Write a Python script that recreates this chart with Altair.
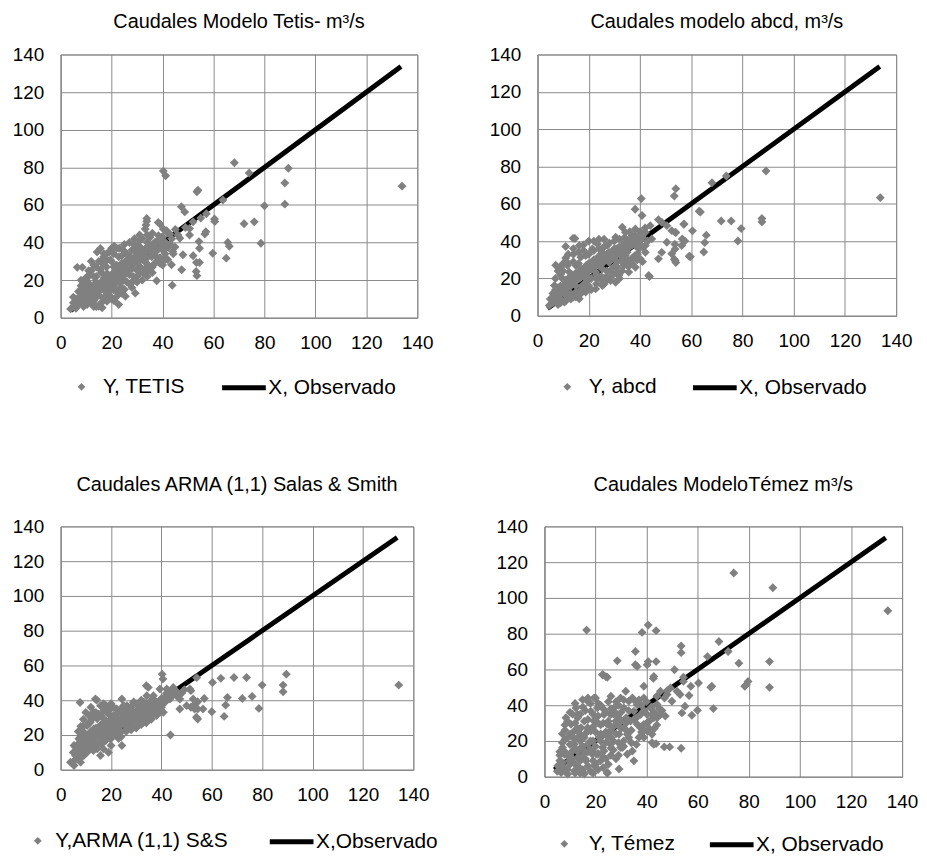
import altair as alt
import pandas as pd

FONT = "Liberation Sans"
GRID = "#8a8a8a"
PT = "#808080"
FS = 19      # tick labels
FS_T = 20    # titles
FS_L = 21    # legend labels

# Observed flows (X = X reference line), m3/s
obs_line = [3.9, 133.6]

axis_values = [0, 20, 40, 60, 80, 100, 120, 140]

# ---------------- Panel 1: TETIS (observed x, simulated y) ----------------
tetis_pts = [
    (134, 70), (89.4, 79.5), (88, 71.7), (88, 60.4), (80, 59.5), (78.6, 39.6), (76, 51), (72, 50),
    (74, 77), (68.2, 82.4), (65.6, 40), (66.2, 38), (65, 31.7), (59.7, 34.3), (60.4, 52.5), (57, 45.8),
    (56.6, 44.5), (53.9, 67.8), (53.5, 67), (53.2, 24.6), (53.5, 22.4), (54.5, 29.4), (53.3, 29.4),
    (54.3, 40.5), (54.5, 37), (47.4, 59), (48.7, 56.3), (40.3, 78), (41.2, 75.5), (43.8, 17.3),
    (47.5, 25.5), (37.7, 19.7), (33.8, 52.8), (33.5, 49.3), (38.3, 50.7), (50.6, 44), (50.6, 47.5),
    (48, 33.5), (44, 35.2), (43.5, 28.2), (42.2, 37.3), (40.9, 30.8), (46.8, 42.3), (52, 33),
    (63.7, 62.6), (57.2, 55.3), (60.5, 51.2), (45, 47), (46, 44), (49, 48), (55, 53), (52, 51),
    (3.9, 4.7), (5.2, 6.1), (6.5, 8.8), (7.8, 11.4), (6.5, 26.8), (8.5, 26.8), (9.1, 14.9), (11, 18.4),
    (11.7, 13.1), (13, 10.5), (15, 6.1), (15.6, 36.8), (14.3, 35), (16.9, 32.4), (18.2, 30.7),
    (19.5, 30.7), (20.8, 34), (22.8, 32.4), (24.7, 35.8), (26, 30.7), (28.6, 39.4), (29.3, 35.8),
    (31.2, 37.6), (33.2, 36.7), (35.1, 42.8), (37, 40.2), (38.4, 43.7), (39, 49.8), (40.3, 47.2),
    (41.6, 46.3), (42.9, 44.5), (33.8, 51.3), (33.2, 47.2), (35.1, 35), (37.7, 32.4), (39, 28.9),
    (32.5, 23.6), (29.3, 13.1), (27.3, 17.5), (23.4, 18.4), (20.8, 14.9), (19.5, 11.4), (18.2, 8.8),
    (16.3, 5.3), (22.8, 7), (22.1, 11.4), (25.4, 11.4), (16.9, 10.5), (13, 14.9), (13, 21.9),
    (15.6, 25.4), (18.2, 23.6), (20.8, 27.1), (23.4, 25.4), (26, 23.6), (27.3, 28.9), (29.9, 30.7),
    (32.5, 30.7), (31.2, 27.1), (28.6, 21.9), (15.6, 18.4), (18.2, 18.4), (20.8, 20.1), (10.4, 21.9),
    (9.8, 11.4), (12.4, 7.9), (10.4, 7), (14.3, 11.4), (16.9, 14.9), (19.5, 16.6), (22.1, 21.9),
    (24.7, 20.1), (26, 27.1), (29.9, 25.4), (33.8, 28.9), (35.8, 32.4), (36.4, 37.6), (39.7, 42.8),
    (41.6, 39.3), (43.6, 42), (44.9, 37.6), (44.2, 34), (40.3, 35.8), (8, 17), (12, 25), (17, 28),
    (21, 24), (24, 29), (27, 33), (30, 33), (25, 15), (14, 19), (11, 10), (6, 10), (9, 20), (17, 21),
    (28, 26), (34, 40), (36, 45), (31, 41),
    (5, 8), (6, 5), (7, 7), (8, 9), (9, 6), (10, 12), (11, 15), (12, 12), (13, 17), (14, 14), (15, 16),
    (16, 19), (17, 17), (18, 21), (19, 19), (20, 23), (21, 21), (22, 25), (23, 23), (24, 27), (25, 25),
    (26, 29), (27, 27), (28, 31), (29, 29), (30, 34), (31, 31), (32, 35), (33, 33), (34, 37), (35, 38),
    (36, 35), (37, 39), (38, 36), (39, 40), (40, 38), (12, 16), (14, 22), (16, 24), (18, 27), (20, 30),
    (22, 28), (24, 33), (26, 34), (28, 36), (30, 38), (32, 42), (34, 44), (10, 17), (13, 9), (15, 12),
    (17, 10), (19, 14), (21, 17), (23, 15), (25, 20), (27, 23), (29, 20), (31, 24), (33, 26), (35, 27),
    (37, 29), (39, 32), (41, 34), (9, 13), (11, 22), (14, 27), (16, 30), (18, 34), (20, 37), (22, 37),
    (7, 14), (5, 11), (8, 20), (12, 30), (13, 6), (21, 9), (24, 13), (28, 16), (30, 19), (34, 22),
    (36, 24),
    (6, 7), (7, 10), (8, 8), (9, 11), (10, 9), (11, 13), (12, 14), (13, 13), (14, 16), (15, 14),
    (16, 17), (17, 19), (18, 16), (19, 21), (20, 18), (21, 23), (22, 20), (23, 26), (24, 22), (25, 28),
    (26, 25), (27, 30), (28, 28), (29, 32), (30, 29), (31, 34), (32, 31), (33, 35), (34, 32), (35, 37),
    (36, 39), (37, 35), (38, 41), (39, 37), (40, 43), (41, 40), (42, 45), (43, 39), (10, 20), (11, 25),
    (13, 28), (15, 30), (17, 34), (19, 35), (21, 38), (23, 37), (25, 39), (27, 40), (29, 42), (31, 44),
    (12, 8), (14, 6), (16, 8), (18, 12), (20, 10), (22, 14), (24, 16), (26, 19), (28, 19), (30, 22),
    (32, 20), (34, 25), (36, 27), (38, 30), (40, 28), (42, 31),
]

# ---------------- Panel 2: abcd ----------------
abcd_pts = [
    (133.8, 63.3), (89.2, 77.6), (87.6, 52.1), (87.6, 50.3), (79.5, 46.7), (78.2, 40.1), (75.6, 50.8),
    (71.7, 50.8), (73.7, 74.9), (68.1, 71.3), (63.6, 55.6), (65.9, 43.2), (65.3, 39.2), (64.9, 34.2),
    (60.5, 45.5), (59.7, 31.6), (57.1, 49), (57.5, 40.1), (54, 68.1), (53.4, 64.2), (54, 44.6),
    (53.6, 38.3), (54, 28.5), (53.4, 30.3), (40.5, 62.8), (38.1, 57.1), (43.7, 21), (11, 37.1),
    (14.6, 41.4), (7.1, 27.1), (63.1, 56), (57.2, 49.2), (56.5, 41.2), (59.2, 31.9),
    (47.2, 51.5), (48.5, 50.1), (50.5, 48.3), (52.4, 45.6), (53.7, 44.7), (56.3, 37.6), (53.7, 35.8),
    (53.7, 29.6), (52.4, 33.2), (48.5, 34), (47.2, 30.5), (50.5, 39.4), (43.4, 21.6), (44, 48.3),
    (42.1, 44.7), (40.8, 53.7), (44.6, 41.2), (42.1, 37.6), (38.1, 32.3), (39.5, 35.8),
    (4.6, 5.5), (5.9, 8.2), (7.2, 10.9), (6.6, 16.2), (13.9, 41.5), (9.8, 19.8), (11.7, 16.2),
    (12.4, 23.4), (15, 26.9), (16.3, 37.6), (18.8, 32.3), (21.4, 35.8), (23.4, 38.5), (25.3, 34),
    (27.2, 37.6), (30.5, 42.1), (33.1, 47.4), (34.3, 44.7), (35.6, 39.4), (36.9, 43), (38.2, 46.5),
    (29.2, 32.3), (31.7, 34), (33.1, 28.7), (30.5, 26.9), (27.9, 28.7), (25.3, 25.1), (22.7, 23.4),
    (20.1, 19.8), (17.5, 16.2), (15, 12.7), (12.4, 10), (10.5, 7.3), (16.3, 9.1), (18.8, 12.7),
    (22.7, 14.4), (25.3, 16.2), (28.5, 18.9), (31.7, 21.6), (35.6, 23.4), (38.2, 26), (36.9, 30.5),
    (34.3, 32.3), (18.8, 25.1), (21.4, 28.7), (24, 30.5), (26.6, 32.3), (13.7, 18), (16.3, 21.6),
    (18.8, 19.8), (11.1, 12.7), (8.5, 14.4), (7.2, 7.3), (29.2, 21.6), (30.5, 18), (33.7, 26.9),
    (40.1, 30.5), (42.1, 34), (16.9, 31.4), (11.7, 27), (9, 22), (14, 29), (20, 26), (23, 20),
    (27, 24), (31, 29), (35, 36), (39, 41), (26, 41), (8, 12), (12, 20), (19, 22),
    (5, 9), (6, 12), (7, 14), (8, 11), (9, 16), (10, 14), (11, 19), (12, 17), (13, 21), (14, 19),
    (15, 23), (16, 20), (17, 25), (18, 23), (19, 27), (20, 24), (21, 28), (22, 26), (23, 30), (24, 27),
    (25, 31), (26, 29), (27, 33), (28, 30), (29, 34), (30, 31), (31, 36), (32, 33), (33, 37), (34, 35),
    (35, 39), (36, 37), (37, 40), (38, 38), (39, 42), (40, 40), (10, 24), (12, 28), (14, 33), (16, 28),
    (18, 35), (20, 33), (22, 35), (24, 36), (26, 37), (28, 39), (30, 40), (32, 41), (34, 42), (36, 45),
    (13, 12), (15, 16), (17, 14), (19, 18), (21, 20), (23, 17), (25, 21), (27, 19), (29, 25), (31, 23),
    (33, 24), (35, 30), (37, 28), (39, 30), (41, 37), (43, 40), (8, 6), (6, 7), (9, 9), (11, 8),
    (14, 10), (7, 20), (9, 26), (11, 31), (20, 16), (26, 17), (32, 20), (36, 27),
    (6, 10), (7, 12), (8, 15), (9, 13), (10, 16), (11, 14), (12, 19), (13, 16), (14, 21), (15, 19),
    (16, 23), (17, 21), (18, 25), (19, 23), (20, 28), (21, 25), (22, 30), (23, 27), (24, 32), (25, 28),
    (26, 33), (27, 30), (28, 34), (29, 31), (30, 36), (31, 33), (32, 37), (33, 35), (34, 39), (35, 34),
    (36, 41), (37, 38), (38, 43), (39, 39), (40, 45), (41, 42), (42, 47), (8, 24), (10, 28), (12, 33),
    (14, 36), (16, 34), (18, 38), (20, 40), (22, 40), (24, 41), (9, 7), (11, 11), (13, 9), (15, 10),
    (17, 12), (19, 15), (21, 14), (23, 22), (25, 19), (27, 21), (29, 23), (31, 26), (33, 30), (35, 27),
    (37, 31), (39, 33), (41, 29),
]

# ---------------- Panel 3: ARMA (1,1) Salas & Smith ----------------
arma_pts = [
    (134.2, 48.7), (89.6, 55), (88.3, 48.7), (88.3, 44.9), (80, 48.7), (78.7, 35.3), (76, 42.2),
    (73.8, 53.1), (72.1, 41), (68.8, 53.1), (63.6, 52.6), (66.2, 41.6), (65.5, 37.2), (64.9, 30.7),
    (60.3, 50.2), (60, 33.4), (57, 41), (54, 53), (54.4, 39.1), (54.4, 34.9), (54.4, 29.2), (53, 37.5),
    (51.7, 36), (51.7, 45.5), (49.1, 46), (43.6, 20), (40.3, 55), (40.6, 52.2), (34, 48.3), (7.7, 38.7),
    (14.3, 40.1),
    (3.9, 4.4), (5.3, 2.5), (5.9, 8.2), (7.2, 11.1), (5.3, 14), (7.2, 17.8), (9.2, 21.6), (10.5, 25.4),
    (11.2, 31.2), (13.1, 33.1), (13.8, 40.7), (15.8, 36.9), (17.1, 29.3), (19.7, 35), (21, 31.2),
    (24.3, 40.7), (26.3, 36.9), (28.9, 38.8), (31.5, 36.9), (34.2, 42.6), (34.8, 47.4), (36.8, 42.6),
    (39.4, 46.5), (42.1, 46.5), (43.4, 44.6), (44.7, 47.4), (46, 42.6), (47.3, 40.7), (50, 36.9),
    (47.3, 35), (38.1, 37.9), (39.4, 33.1), (36.8, 33.1), (34.2, 31.2), (31.5, 30.2), (28.9, 29.3),
    (26.3, 27.3), (23.7, 25.4), (21, 23.5), (18.4, 21.6), (15.8, 19.7), (13.1, 17.8), (11.8, 14),
    (10.5, 10.1), (15.8, 8.2), (14.5, 12), (17.1, 15.9), (19.7, 17.8), (22.3, 19.7), (24.3, 14),
    (23.7, 21.6), (26.3, 23.5), (30.2, 25.4), (32.9, 27.3), (35.5, 29.3), (38.1, 31.2), (40.8, 33.1),
    (41.4, 38.8), (43.4, 40.7), (18.4, 27.3), (15.8, 25.4), (13.1, 23.5), (14.5, 29.3), (11.8, 27.3),
    (19.7, 25.4), (22.3, 27.3), (25, 31.2), (27.6, 33.1), (30.2, 34), (32.9, 35), (22.3, 35),
    (18.4, 33.1), (7.9, 4.4), (9.2, 8.2), (51.3, 46.5), (52.6, 40.7), (53.2, 35), (53.9, 30.2),
    (56.5, 35), (9, 18), (12, 21), (16, 23), (20, 29), (24, 28), (28, 34), (33, 39), (37, 40),
    (45, 44), (42, 43), (48, 44), (17, 38),
    (5, 10), (6, 13), (7, 15), (8, 19), (9, 17), (10, 20), (11, 18), (12, 22), (13, 20), (14, 24),
    (15, 22), (16, 26), (17, 24), (18, 28), (19, 26), (20, 27), (21, 29), (22, 25), (23, 29), (24, 27),
    (25, 29), (26, 31), (27, 29), (28, 31), (29, 33), (30, 31), (31, 33), (32, 32), (33, 34), (34, 33),
    (35, 36), (36, 35), (37, 37), (38, 36), (39, 39), (40, 38), (41, 41), (42, 40), (44, 42), (46, 45),
    (8, 25), (9, 29), (10, 33), (12, 36), (14, 33), (16, 31), (18, 37), (20, 38), (22, 32), (24, 35),
    (26, 34), (28, 36), (30, 38), (32, 40), (34, 38), (36, 40), (10, 15), (12, 13), (14, 16), (16, 18),
    (18, 17), (20, 21), (22, 23), (24, 22), (26, 25), (28, 26), (30, 28), (32, 29), (34, 27), (36, 31),
    (38, 34), (40, 36), (6, 6), (7, 9), (8, 7), (11, 11), (13, 11), (17, 12), (20, 14), (19, 10),
    (23, 18),
    (6, 11), (7, 13), (8, 15), (9, 14), (10, 18), (11, 16), (12, 19), (13, 18), (14, 21), (15, 20),
    (16, 22), (17, 21), (18, 24), (19, 23), (20, 25), (21, 24), (22, 27), (23, 26), (24, 29), (25, 27),
    (26, 30), (27, 28), (28, 32), (29, 30), (30, 33), (31, 32), (32, 35), (33, 33), (34, 36), (35, 34),
    (36, 38), (37, 36), (38, 39), (39, 37), (40, 41), (41, 39), (42, 44), (43, 42), (45, 46), (47, 43),
    (7, 22), (9, 25), (11, 27), (13, 30), (15, 32), (17, 34), (19, 32), (21, 36), (23, 33), (25, 37),
    (27, 36), (29, 39), (8, 11), (10, 12), (12, 15), (14, 14), (16, 15), (18, 19), (20, 18), (22, 20),
    (24, 19), (26, 22), (28, 23), (30, 24), (32, 26), (34, 30), (36, 29), (38, 32),
]

# ---------------- Panel 4: Temez ----------------
temez_pts = [
    (134.4, 92.8), (89.4, 105.7), (88.1, 64.4), (88.1, 50), (79.7, 53.3), (79, 51.5), (78.4, 50.6),
    (76.1, 63.5), (74.1, 113.9), (71.9, 70), (68.3, 75.6), (63.8, 67.2), (66.1, 38.1), (65.5, 50.6),
    (65.1, 50), (60.3, 52.4), (59.9, 37.2), (57.3, 50.6), (57.7, 34.4), (56.6, 45.4), (53.5, 73.1),
    (53.5, 69.4), (53.5, 15.9), (54.4, 55.6), (55, 39.4), (53.8, 35.7), (50.9, 59.8), (49, 16.7),
    (46.9, 16.7), (43.7, 18.5), (42.1, 19.1), (43.7, 64.4), (43.7, 81.7), (40.6, 84.8), (38.2, 80.7),
    (40.6, 64.4), (40.2, 62.6), (42.8, 56.1), (42.6, 55), (35.6, 70), (35.6, 62.6), (36.3, 61.7),
    (28.5, 64.8), (22.9, 57), (24.6, 55.6), (16.5, 82), (29.2, 4.3), (24.6, 1.9), (38.9, 50.6),
    (48, 48.1), (49.9, 42.2), (47.3, 33.9), (42.1, 34.8), (44.1, 33), (42.1, 23.7), (32.4, 12.6),
    (30.5, 16.3), (34.4, 14.4),
    (5.2, 6.1), (6.5, 2.4), (7.8, 5.2), (8.4, 33), (10.4, 29.3), (11.7, 25.6), (9.1, 21.9), (7.1, 16.3),
    (7.8, 12.6), (9.7, 8.9), (11.7, 3.3), (13, 10.7), (14.3, 16.3), (15.6, 21.9), (15.6, 31.1),
    (14.9, 43.1), (16.9, 42.2), (18.1, 36.7), (19.4, 44.1), (20.7, 38.5), (19.4, 31.1), (18.1, 25.6),
    (16.9, 18.1), (18.8, 12.6), (19.4, 6.1), (22, 8.9), (22.7, 16.3), (23.3, 23.7), (24.6, 29.3),
    (25.9, 34.8), (27.9, 31.1), (29.2, 23.7), (29.8, 16.3), (25.9, 18.1), (23.3, 14.4), (24.6, 2.4),
    (32.4, 23.7), (31.8, 47.8), (31.1, 38.5), (34.4, 44.1), (35, 36.7), (37.6, 34.8), (37.6, 27.4),
    (36.3, 29.3), (38.9, 29.3), (40.2, 34.8), (42.8, 33), (40.2, 25.6), (38.9, 22), (42.8, 18.1),
    (29.8, 44.1), (27.2, 38.5), (23.3, 34.8), (13, 34.8), (12.3, 38.5), (14.3, 27.4), (11, 14.4),
    (16.2, 8.9), (13.6, 5.2), (20.7, 12.6), (21.4, 21.9), (25.9, 25.6), (28.5, 29.3), (31.1, 27.4),
    (33.7, 31.1), (36.3, 40.2), (38.9, 44.1), (41.5, 38.5), (44.1, 40.4), (45.4, 34.8), (35, 8.9),
    (15.6, 1.5), (9.1, 1.5), (27.9, 35.7), (24, 56), (22.7, 57), (33, 42.2), (16.9, 27.4), (13, 21.9),
    (11.7, 18.1), (45.4, 47.8), (48, 46), (49.3, 49.6), (51.9, 47.8), (53.1, 46), (54.4, 53.3),
    (10, 12), (17, 14), (21, 30), (26, 12), (8, 26), (19, 20), (27, 20),
    (5, 3), (6, 9), (7, 19), (8, 14), (9, 4), (10, 18), (10, 24), (11, 10), (12, 30), (12, 7), (13, 14),
    (13, 27), (14, 20), (14, 35), (15, 12), (15, 4), (16, 24), (16, 37), (17, 32), (17, 6), (18, 15),
    (18, 41), (19, 28), (19, 9), (20, 17), (20, 33), (21, 41), (21, 4), (22, 20), (22, 29), (23, 11),
    (23, 38), (24, 19), (24, 25), (25, 7), (25, 31), (26, 22), (26, 38), (27, 15), (27, 28), (28, 10),
    (28, 42), (29, 19), (30, 27), (30, 36), (31, 20), (32, 33), (33, 22), (34, 26), (35, 32), (36, 18),
    (37, 43), (38, 25), (39, 37), (40, 30), (41, 27), (43, 36), (44, 29), (46, 37), (47, 44), (8, 29),
    (9, 12), (11, 35), (12, 21), (14, 9), (16, 14), (18, 3), (20, 44), (26, 45), (29, 33), (32, 30),
    (12, 2), (7, 8),
    (6, 14), (7, 24), (8, 3), (9, 31), (10, 7), (11, 22), (12, 16), (13, 33), (13, 4), (14, 24),
    (15, 39), (15, 17), (16, 10), (17, 26), (17, 44), (18, 20), (19, 35), (19, 14), (20, 7), (20, 25),
    (21, 34), (21, 13), (22, 40), (22, 24), (23, 5), (23, 30), (24, 36), (24, 10), (25, 22), (25, 42),
    (26, 28), (26, 16), (27, 35), (28, 24), (29, 40), (29, 12), (30, 31), (31, 43), (31, 17), (32, 26),
    (33, 37), (34, 19), (35, 43), (36, 33), (37, 22), (38, 40), (39, 26), (40, 42), (41, 31), (42, 39),
    (43, 27), (44, 45), (45, 38), (10, 36), (12, 41), (8, 21), (6, 12), (7, 4), (14, 2), (19, 2),
]

titles = [
    "Caudales Modelo Tetis- m³/s",
    "Caudales modelo abcd, m³/s",
    "Caudales ARMA (1,1) Salas & Smith",
    "Caudales ModeloTémez m³/s",
]
sim_labels = ["Y, TETIS", "Y, abcd", "Y,ARMA (1,1) S&S", "Y, Témez"]
obs_labels = ["X, Observado", "X, Observado", "X,Observado", "X, Observado"]
all_pts = [tetis_pts, abcd_pts, arma_pts, temez_pts]

# layout per panel: width, height, title offset, diamond legend (x, y, label offset), line legend (x, y)
layout = [
    dict(w=359, h=265, toff=14, dl=(10.5, 324, 11), ll=(160, 311)),
    dict(w=361, h=263, toff=14, dl=(19.5, 324, 11), ll=(154, 311)),
    dict(w=355, h=245, toff=23, dl=(-33.5, 306, 7), ll=(208, 293)),
    dict(w=360, h=252, toff=23, dl=(9.5, 309, 14), ll=(164, 296)),
]


def make_panel(i):
    lay = layout[i]
    df_pts = pd.DataFrame(all_pts[i], columns=["x", "y"])
    df_pts["serie"] = sim_labels[i]
    df_line = pd.DataFrame({"x": obs_line, "y": obs_line, "serie": obs_labels[i]})

    xs = alt.Scale(domain=[0, 140], nice=False, zero=True)
    ys = alt.Scale(domain=[0, 140], nice=False, zero=True)
    common = dict(values=axis_values, grid=True, gridColor=GRID, gridWidth=1, domainColor=GRID,
                  ticks=False, labelFont=FONT, labelFontSize=FS, labelColor="black",
                  labelFlush=False, labelOverlap=False, title=None)
    xax = alt.Axis(labelPadding=16, **common)
    yax = alt.Axis(labelPadding=17, **common)

    line = alt.Chart(df_line).mark_line(strokeWidth=5, strokeCap="butt").encode(
        x=alt.X("x:Q", scale=xs, axis=xax),
        y=alt.Y("y:Q", scale=ys, axis=yax),
        stroke=alt.Stroke(
            "serie:N",
            scale=alt.Scale(domain=[obs_labels[i]], range=["black"]),
            legend=alt.Legend(orient="none", legendX=lay["ll"][0], legendY=lay["ll"][1], title=None,
                              symbolType="stroke", symbolSize=44 * 44, symbolStrokeWidth=5,
                              labelOffset=0, labelFont=FONT, labelFontSize=FS_L, labelColor="black",
                              labelLimit=400, padding=0),
        ),
    )
    pts = alt.Chart(df_pts).mark_point(shape="diamond", filled=True, size=80, opacity=1).encode(
        x=alt.X("x:Q", scale=xs, axis=xax),
        y=alt.Y("y:Q", scale=ys, axis=yax),
        color=alt.Color(
            "serie:N",
            scale=alt.Scale(domain=[sim_labels[i]], range=[PT]),
            legend=alt.Legend(orient="none", legendX=lay["dl"][0], legendY=lay["dl"][1], title=None,
                              symbolType="diamond", symbolSize=60, symbolOpacity=1,
                              labelOffset=lay["dl"][2], labelFont=FONT, labelFontSize=FS_L,
                              labelColor="black", labelLimit=400, padding=0),
        ),
    )
    return alt.layer(line, pts).properties(
        width=lay["w"], height=lay["h"],
        title=alt.TitleParams(titles[i], offset=lay["toff"], font=FONT, fontSize=FS_T,
                              fontWeight="normal", color="black", anchor="middle"),
    )


res = dict(color="independent", stroke="independent")
top = alt.hconcat(make_panel(0), make_panel(1), spacing=54).resolve_scale(**res)
bottom = alt.hconcat(make_panel(2), make_panel(3), spacing=56).resolve_scale(**res)
chart = alt.vconcat(top, bottom, spacing=75).resolve_scale(**res).properties(
    padding={"left": 3, "top": 0, "right": 0, "bottom": 0}
).configure_view(stroke=GRID, strokeWidth=1)

chart.save("out.html", embed_options={"renderer": "svg", "actions": False})
